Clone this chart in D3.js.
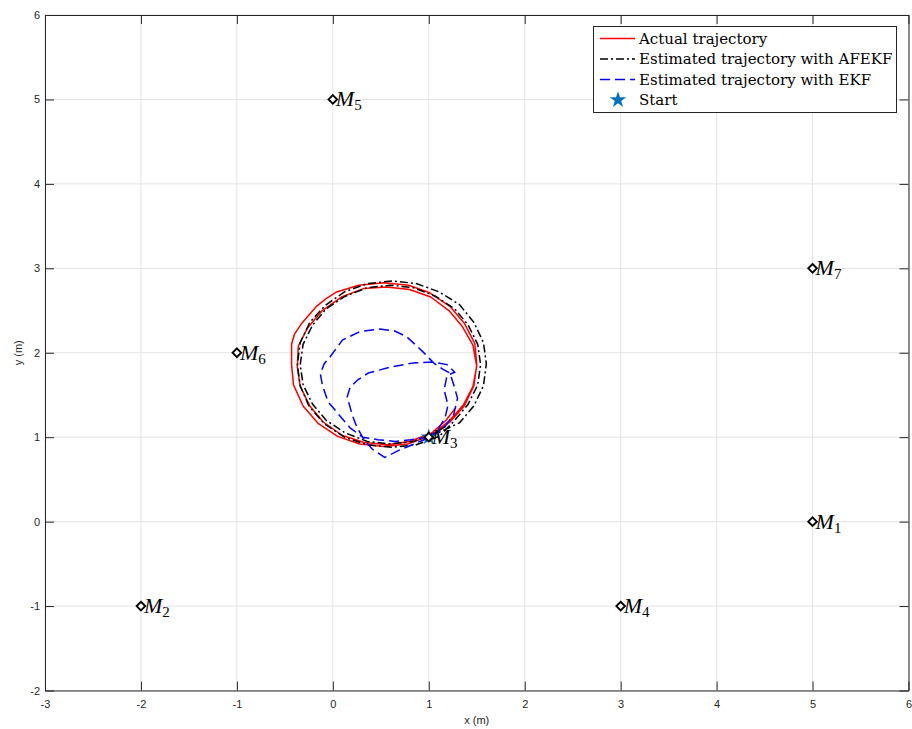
<!DOCTYPE html>
<html>
<head>
<meta charset="utf-8">
<script src="https://cdn.jsdelivr.net/npm/d3@7"></script>
<style>
  body { margin: 0; background: #fff; }
  svg { display: block; }
</style>
</head>
<body>
<svg id="chart" width="912" height="729"></svg>
<script>
// ---- data ----
const xTicks = [-3, -2, -1, 0, 1, 2, 3, 4, 5, 6];
const yTicks = [-2, -1, 0, 1, 2, 3, 4, 5, 6];

// landmark positions M1..M7
const landmarkIds = ["1", "2", "3", "4", "5", "6", "7"];
const landmarkX = [5, -2, 1, 3, 0, -1, 5];
const landmarkY = [0, -1, 1, -1, 5, 2, 3];

const startPoint = [1, 1];

// actual robot trajectory (two laps)
const actualX = [1.00, 1.22, 1.37, 1.47, 1.50, 1.48, 1.37, 1.22, 1.01, 0.79, 0.53, 0.27, 0.04, -0.07, -0.17, -0.33, -0.40, -0.43, -0.43, -0.41, -0.31, -0.15, 0.05, 0.28, 0.53, 0.78, 1.02,
                 1.21, 1.36, 1.46, 1.50, 1.46, 1.35, 1.21, 1.02, 0.80, 0.56, 0.32, 0.09, -0.11, -0.26, -0.36, -0.37, -0.34, -0.24, -0.10, 0.10, 0.32, 0.56, 0.80, 1.03, 1.18, 1.28];
const actualY = [1.00, 1.18, 1.37, 1.61, 1.86, 2.11, 2.35, 2.55, 2.71, 2.80, 2.83, 2.80, 2.72, 2.64, 2.55, 2.34, 2.22, 2.10, 1.86, 1.62, 1.37, 1.16, 1.01, 0.92, 0.89, 0.92, 1.02,
                 1.19, 1.38, 1.60, 1.84, 2.09, 2.31, 2.50, 2.66, 2.75, 2.78, 2.76, 2.66, 2.50, 2.30, 2.08, 1.83, 1.60, 1.37, 1.18, 1.02, 0.94, 0.91, 0.95, 1.05, 1.20, 1.35];

// trajectory estimated with AFEKF
const afekfX = [1.00, 1.32, 1.47, 1.57, 1.60, 1.57, 1.47, 1.32, 1.11, 0.87, 0.62, 0.36, 0.12, -0.08, -0.24, -0.34, -0.37, -0.34, -0.25, -0.09, 0.12, 0.36, 0.62, 0.87, 1.11,
                1.27, 1.41, 1.51, 1.54, 1.51, 1.41, 1.27, 1.07, 0.84, 0.60, 0.36, 0.13, -0.07, -0.21, -0.31, -0.34, -0.31, -0.21, -0.07, 0.13, 0.36, 0.60, 0.84, 1.07, 1.20];
const afekfY = [1.00, 1.17, 1.37, 1.61, 1.87, 2.12, 2.36, 2.57, 2.72, 2.82, 2.85, 2.82, 2.72, 2.56, 2.36, 2.12, 1.86, 1.61, 1.37, 1.16, 1.00, 0.91, 0.88, 0.91, 1.01,
                1.20, 1.39, 1.62, 1.86, 2.10, 2.33, 2.52, 2.67, 2.77, 2.80, 2.77, 2.67, 2.52, 2.33, 2.10, 1.86, 1.62, 1.39, 1.20, 1.05, 0.95, 0.92, 0.95, 1.05, 1.15];

// trajectory estimated with EKF
const ekfX = [1.00, 0.81, 0.65, 0.47, 0.31, 0.18, 0.09, -0.05, -0.11, -0.13, -0.09, -0.03, 0.10, 0.28, 0.49, 0.64, 0.77, 0.94, 1.05, 1.14, 1.22, 1.26, 1.30, 1.26, 1.16, 1.01,
              0.87, 0.70, 0.54, 0.41, 0.32, 0.25, 0.20, 0.15, 0.18, 0.26, 0.37, 0.60, 0.84, 1.05, 1.19, 1.27, 1.19, 1.16, 1.20, 1.17, 1.09, 0.98];
const ekfY = [1.00, 0.97, 0.95, 0.97, 1.00, 1.11, 1.23, 1.42, 1.62, 1.75, 1.87, 1.95, 2.15, 2.25, 2.28, 2.26, 2.19, 2.01, 1.88, 1.81, 1.76, 1.62, 1.46, 1.27, 1.11, 1.00,
              0.93, 0.85, 0.76, 0.86, 0.98, 1.12, 1.27, 1.48, 1.59, 1.68, 1.76, 1.83, 1.88, 1.89, 1.86, 1.77, 1.73, 1.56, 1.38, 1.23, 1.08, 0.99];

const legendLabels = ["Actual trajectory", "Estimated trajectory with AFEKF", "Estimated trajectory with EKF", "Start"];

// ---- layout ----
const svg = d3.select("#chart");
const W = 912, H = 729;
const plot = { left: 45, right: 908.5, top: 15, bottom: 690.5 };
const axisColor = "#262626";
const starColor = "#0072BD";

const x = d3.scaleLinear().domain([-3, 6]).range([plot.left, plot.right]);
const y = d3.scaleLinear().domain([-2, 6]).range([plot.bottom, plot.top]);

svg.append("rect").attr("width", W).attr("height", H).attr("fill", "#fff");

// grid
const grid = svg.append("g").attr("stroke", "#e3e3e3").attr("stroke-width", 1);
grid.selectAll(".gx").data(xTicks).join("line")
  .attr("x1", d => x(d)).attr("x2", d => x(d))
  .attr("y1", plot.top).attr("y2", plot.bottom);
grid.selectAll(".gy").data(yTicks).join("line")
  .attr("y1", d => y(d)).attr("y2", d => y(d))
  .attr("x1", plot.left).attr("x2", plot.right);

// trajectories
const zip = (xs, ys) => xs.map((v, i) => [v, ys[i]]);
const line = d3.line().x(d => x(d[0])).y(d => y(d[1]));

svg.append("path").datum(zip(actualX, actualY))
  .attr("d", line).attr("fill", "none")
  .attr("stroke", "#ff0000").attr("stroke-width", 1.5).attr("stroke-linejoin", "round");

svg.append("path").datum(zip(afekfX, afekfY))
  .attr("d", line).attr("fill", "none")
  .attr("stroke", "#000").attr("stroke-width", 1.5)
  .attr("stroke-dasharray", "8,3,2,3");

svg.append("path").datum(zip(ekfX, ekfY))
  .attr("d", line).attr("fill", "none")
  .attr("stroke", "#0000ff").attr("stroke-width", 1.5)
  .attr("stroke-dasharray", "10,5");

// start marker
const star = d3.symbol().type(d3.symbolStar).size(85);
svg.append("path").attr("d", star())
  .attr("transform", `translate(${x(startPoint[0])},${y(startPoint[1])})`)
  .attr("fill", starColor);

// landmarks
const landmarks = landmarkIds.map((id, i) => ({ id, x: landmarkX[i], y: landmarkY[i] }));
const lm = svg.append("g");
lm.selectAll("path").data(landmarks).join("path")
  .attr("d", "M0,-4.3L4.3,0L0,4.3L-4.3,0Z")
  .attr("transform", d => `translate(${x(d.x)},${y(d.y)})`)
  .attr("fill", "#fff").attr("stroke", "#000").attr("stroke-width", 1.9);

const lbl = lm.selectAll("text").data(landmarks).join("text")
  .attr("x", d => x(d.x) + 3)
  .attr("y", d => y(d.y) + 7)
  .attr("font-family", "'Liberation Serif', 'Times New Roman', serif")
  .attr("fill", "#000");
lbl.append("tspan").attr("font-style", "italic").attr("font-size", 22).text("M");
lbl.append("tspan").attr("font-size", 15).attr("dy", 4).text(d => d.id);

// axes
const fmt = d => String(d);
const axG = svg.append("g").attr("font-family", "'Liberation Sans', Arial, sans-serif");

const bottomAxis = axG.append("g").attr("transform", `translate(0,${plot.bottom})`)
  .call(d3.axisBottom(x).tickValues(xTicks).tickFormat(fmt).tickSize(-9).tickSizeOuter(0).tickPadding(9.5));
const leftAxis = axG.append("g").attr("transform", `translate(${plot.left},0)`)
  .call(d3.axisLeft(y).tickValues(yTicks).tickFormat(fmt).tickSize(-9).tickSizeOuter(0).tickPadding(5));
const topAxis = axG.append("g").attr("transform", `translate(0,${plot.top})`)
  .call(d3.axisTop(x).tickValues(xTicks).tickFormat("").tickSize(-9).tickSizeOuter(0));
const rightAxis = axG.append("g").attr("transform", `translate(${plot.right},0)`)
  .call(d3.axisRight(y).tickValues(yTicks).tickFormat("").tickSize(-9).tickSizeOuter(0));

[bottomAxis, leftAxis, topAxis, rightAxis].forEach(g => {
  g.select(".domain").attr("stroke", axisColor).attr("stroke-width", 1);
  g.selectAll(".tick line").attr("stroke", axisColor).attr("stroke-width", 1);
  g.selectAll(".tick text").attr("fill", axisColor).attr("font-size", 11);
});

axG.append("text").attr("x", (plot.left + plot.right) / 2).attr("y", 724)
  .attr("text-anchor", "middle").attr("font-size", 11).attr("fill", axisColor).text("x (m)");
axG.append("text").attr("transform", `translate(22,${(plot.top + plot.bottom) / 2}) rotate(-90)`)
  .attr("text-anchor", "middle").attr("font-size", 11).attr("fill", axisColor).text("y (m)");

// legend
const leg = svg.append("g").attr("font-family", "'DejaVu Serif', serif");
leg.append("rect").attr("x", 593.5).attr("y", 26.5).attr("width", 303).attr("height", 86)
  .attr("fill", "#fff").attr("stroke", axisColor).attr("stroke-width", 1);
const rowY = [38.5, 59, 79.5, 100];
const legStyles = [
  { stroke: "#ff0000", dash: null },
  { stroke: "#000", dash: "8,3,2,3" },
  { stroke: "#0000ff", dash: "10,5" },
  null
];
legendLabels.forEach((t, i) => {
  const s = legStyles[i];
  if (s) {
    leg.append("line").attr("x1", 600).attr("x2", 635).attr("y1", rowY[i]).attr("y2", rowY[i])
      .attr("stroke", s.stroke).attr("stroke-width", 1.5)
      .attr("stroke-dasharray", s.dash);
  } else {
    leg.append("path").attr("d", star()).attr("transform", `translate(618,${rowY[i]})`).attr("fill", starColor);
  }
  leg.append("text").attr("x", 639).attr("y", rowY[i]).attr("dy", "0.36em")
    .attr("font-size", 15).attr("fill", "#000").text(t);
});
</script>
</body>
</html>
